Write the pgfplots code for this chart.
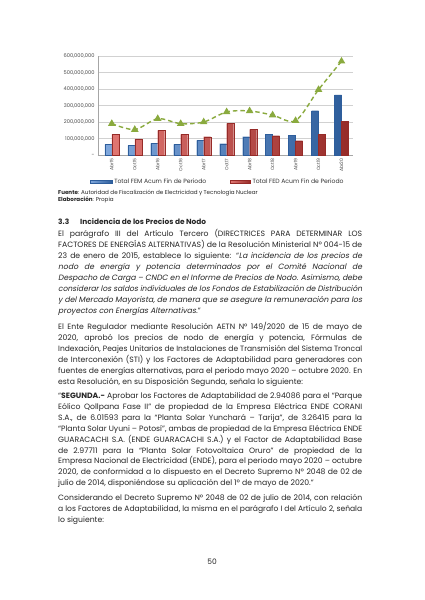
\documentclass[border=0pt]{standalone}
\usepackage{fontspec}
\setmainfont{Poppins}[ItalicFont=Poppins, ItalicFeatures={FakeSlant=0.2}]
\usepackage{pgfplots}
\pgfplotsset{compat=1.18}
\definecolor{femL}{HTML}{7FA7DC}
\definecolor{femD}{HTML}{2E5E9C}
\definecolor{fedL}{HTML}{E07672}
\definecolor{fedD}{HTML}{962B28}
\definecolor{tot}{HTML}{8AAA3E}
\definecolor{txt}{HTML}{262626}
\newcommand\body{\fontsize{7.7}{11}\selectfont}
\newsavebox\lbox
\newcommand\Js[2]{\node[anchor=base west,inner sep=0pt,font=\body,text=txt] at (58pt,-#1pt) {\sbox\lbox{#2}\ifdim\wd\lbox>300pt\resizebox{304pt}{\height}{#2}\else\makebox[304pt][s]{#2}\fi};}
\newcommand\Jl[2]{\node[anchor=base west,inner sep=0pt,font=\body,text=txt] at (58pt,-#1pt) {#2};}
\begin{document}
\begin{tikzpicture}
\path[use as bounding box, fill=white] (0pt,0pt) rectangle (424pt,-600pt);
\begin{axis}[
  at={(98pt,-155pt)}, anchor=south west,
  scale only axis, width=255pt, height=99pt,
  xmin=-0.6, xmax=10.5, ymin=0, ymax=600000000,
  ytick={0,100000000,200000000,300000000,400000000,500000000,600000000},
  yticklabels={{-},{100,000,000},{200,000,000},{300,000,000},{400,000,000},{500,000,000},{600,000,000}},
  scaled y ticks=false,
  xtick={0,1,2,3,4,5,6,7,8,9,10},
  xticklabels={Abr15,Oct15,Abr16,Oct16,Abr17,Oct17,Abr18,Oct18,Abr19,Oct19,Abr20},
  xticklabel style={rotate=90, anchor=east, font=\fontsize{4.6}{5}\selectfont, text=black!70},
  yticklabel style={font=\fontsize{5.1}{6}\selectfont, text=black!70},
  ymajorgrids, grid style={black!18, line width=0.5pt},
  axis x line*=bottom, axis y line*=left,
  axis line style={black!35, line width=0.5pt},
  tick style={draw=none},
  legend style={at={(0.47,-0.27)}, anchor=center, draw=none, fill=none,
    font=\fontsize{6.1}{7}\selectfont, text=black!80, legend columns=2,
    /tikz/every even column/.append style={column sep=22pt}},
  legend cell align=left,
]
\addplot[ybar, bar width=7pt, bar shift=-3.5pt, draw=femD, line width=0.2pt, left color=femL, right color=femD,
  legend image code/.code={\fill[left color=femL, right color=femD] (0pt,-1.3pt) rectangle (22pt,1.3pt);}]
  coordinates {(0,65000000)(1,57000000)(2,71000000)(3,65000000)(4,89000000)(5,69000000)(6,111000000)(7,125000000)(8,121000000)(9,269000000)(10,364000000)};
\addlegendentry{Total FEM Acum Fin de Periodo}
\addplot[ybar, bar width=7pt, bar shift=3.5pt, draw=fedD, line width=0.2pt, left color=fedL, right color=fedD,
  legend image code/.code={\fill[left color=fedL, right color=fedD] (0pt,-1.3pt) rectangle (20pt,1.3pt);}]
  coordinates {(0,125000000)(1,97000000)(2,149000000)(3,125000000)(4,111000000)(5,192000000)(6,156000000)(7,117000000)(8,87000000)(9,127000000)(10,204000000)};
\addlegendentry{Total FED Acum Fin de Periodo}
\addplot[forget plot, smooth, tension=0.5, color=tot, line width=1.4pt, dash pattern=on 4.5pt off 3pt,
  mark=triangle*, mark size=3pt, mark options={solid, fill=tot, draw=tot}]
  coordinates {(0,190000000)(1,154000000)(2,220000000)(3,190000000)(4,200000000)(5,261000000)(6,267000000)(7,242000000)(8,208000000)(9,396000000)(10,568000000)};
\end{axis}
\node[anchor=base west, inner sep=0pt, font=\fontsize{5.6}{6}\selectfont, text=txt] at (58pt,-194.5pt) {\textbf{Fuente}: Autoridad de Fiscalización de Electricidad y Tecnología Nuclear};
\node[anchor=base west, inner sep=0pt, font=\fontsize{5.6}{6}\selectfont, text=txt] at (58pt,-201pt) {\textbf{Elaboración}: Propia};
\node[anchor=base west, inner sep=0pt, font=\fontsize{7.4}{10}\selectfont\bfseries, text=txt] at (58pt,-224pt) {3.3};
\node[anchor=base west, inner sep=0pt, font=\fontsize{7.4}{10}\selectfont\bfseries, text=txt] at (80pt,-224pt) {Incidencia de los Precios de Nodo};
\Js{236.5}{El parágrafo III del Artículo Tercero (DIRECTRICES PARA DETERMINAR LOS}
\Js{247.5}{FACTORES DE ENERGÍAS ALTERNATIVAS) de la Resolución Ministerial Nº 004-15 de}
\Js{258.5}{23 de enero de 2015, establece lo siguiente: “\textit{La incidencia de los precios de}}
\Js{269.5}{\textit{nodo de energía y potencia determinados por el Comité Nacional de}}
\Js{280.5}{\textit{Despacho de Carga – CNDC en el Informe de Precios de Nodo. Asimismo, debe}}
\Js{291.5}{\textit{considerar los saldos individuales de los Fondos de Estabilización de Distribución}}
\Js{302.5}{\textit{y del Mercado Mayorista, de manera que se asegure la remuneración para los}}
\Jl{313.5}{\textit{proyectos con Energías Alternativas.}”}
\Js{329}{El Ente Regulador mediante Resolución AETN Nº 149/2020 de 15 de mayo de}
\Js{340}{2020, aprobó los precios de nodo de energía y potencia, Fórmulas de}
\Js{351}{Indexación, Peajes Unitarios de Instalaciones de Transmisión del Sistema Troncal}
\Js{362}{de Interconexión (STI) y los Factores de Adaptabilidad para generadores con}
\Js{373}{fuentes de energías alternativas, para el periodo mayo 2020 – octubre 2020. En}
\Jl{384}{esta Resolución, en su Disposición Segunda, señala lo siguiente:}
\Js{398.5}{“\textbf{SEGUNDA.-} Aprobar los Factores de Adaptabilidad de 2.94086 para el “Parque}
\Js{409.4}{Eólico Qollpana Fase II” de propiedad de la Empresa Eléctrica ENDE CORANI}
\Js{420.3}{S.A., de 6.01593 para la “Planta Solar Yunchará – Tarija”, de 3.26415 para la}
\Js{431.2}{“Planta Solar Uyuni – Potosí”, ambas de propiedad de la Empresa Eléctrica ENDE}
\Js{442.1}{GUARACACHI S.A. (ENDE GUARACACHI S.A.) y el Factor de Adaptabilidad Base}
\Js{453}{de 2.97711 para la “Planta Solar Fotovoltaica Oruro” de propiedad de la}
\Js{463.9}{Empresa Nacional de Electricidad (ENDE), para el periodo mayo 2020 – octubre}
\Js{474.8}{2020, de conformidad a lo dispuesto en el Decreto Supremo Nº 2048 de 02 de}
\Jl{485.7}{julio de 2014, disponiéndose su aplicación del 1º de mayo de 2020.”}
\Js{500}{Considerando el Decreto Supremo Nº 2048 de 02 de julio de 2014, con relación}
\Js{511}{a los Factores de Adaptabilidad, la misma en el parágrafo I del Artículo 2, señala}
\Jl{522}{lo siguiente:}
\node[anchor=base, inner sep=0pt, font=\fontsize{7.5}{9}\selectfont, text=txt] at (212pt,-564pt) {50};
\end{tikzpicture}
\end{document}
